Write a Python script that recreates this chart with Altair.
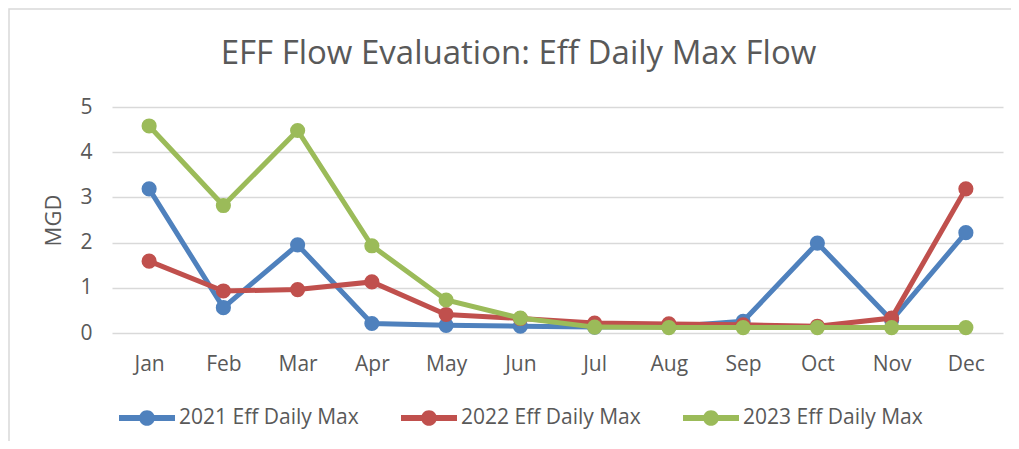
import altair as alt
import pandas as pd

months = ["Jan", "Feb", "Mar", "Apr", "May", "Jun", "Jul", "Aug", "Sep", "Oct", "Nov", "Dec"]
series_names = ["2021 Eff Daily Max", "2022 Eff Daily Max", "2023 Eff Daily Max"]
v2021 = [3.19, 0.56, 1.95, 0.21, 0.17, 0.15, 0.13, 0.14, 0.26, 1.99, 0.28, 2.22]
v2022 = [1.59, 0.93, 0.96, 1.13, 0.41, 0.32, 0.22, 0.20, 0.18, 0.15, 0.33, 3.19]
v2023 = [4.58, 2.82, 4.48, 1.93, 0.73, 0.33, 0.13, 0.12, 0.12, 0.12, 0.12, 0.12]
colors = ["#4F81BD", "#C0504D", "#9BBB59"]

rows = []
for name, vals in zip(series_names, [v2021, v2022, v2023]):
    for m, v in zip(months, vals):
        rows.append({"Month": m, "Series": name, "MGD": v})
df = pd.DataFrame(rows)

FONT = "Open Sans"
TXT = "#595959"

color_scale = alt.Scale(domain=series_names, range=colors)
x_enc = alt.X("Month:N", sort=months, scale=alt.Scale(type="point", padding=0.5),
              axis=alt.Axis(title=None, ticks=False, domain=False, labelPadding=20,
                            labelFontSize=21, labelColor=TXT, labelFont=FONT, labelAngle=0))
y_enc = alt.Y("MGD:Q", scale=alt.Scale(domain=[0, 5]),
              axis=alt.Axis(title="MGD", values=[0, 1, 2, 3, 4, 5], ticks=False, domain=False,
                            labelPadding=20, labelFontSize=21, labelColor=TXT, labelFont=FONT,
                            titleFontSize=22, titleFont=FONT, titleColor=TXT, titleFontWeight="normal",
                            titlePadding=14, gridColor="#D9D9D9", gridWidth=1.5))

legend_symbol = ("M-1,-0.11 L1,-0.11 L1,0.11 L-1,0.11 Z "
                 "M-0.28,0 A0.28,0.28 0 1,1 0.28,0 A0.28,0.28 0 1,1 -0.28,0 Z")

legend = alt.Legend(title=None, orient="none", direction="horizontal",
                    legendX=7, legendY=283, symbolType=legend_symbol,
                    symbolSize=3136, symbolStrokeWidth=0,
                    labelFontSize=21, labelFont=FONT, labelColor=TXT, labelLimit=400,
                    labelOffset=4, columnPadding=42, symbolOpacity=1)

frame = alt.Chart(pd.DataFrame({"a": [0]})).mark_rect(
    fill=None, stroke="#D9D9D9", strokeWidth=1.5
).encode(x=alt.value(-103), x2=alt.value(1000), y=alt.value(-98), y2=alt.value(400))

layers = [frame]
for i, name in enumerate(series_names):
    base = alt.Chart(df).transform_filter(alt.datum.Series == name)
    line = base.mark_line(strokeWidth=5).encode(
        x=x_enc, y=y_enc,
        color=alt.Color("Series:N", scale=color_scale, legend=legend),
    )
    pts = base.mark_point(filled=True, size=230, opacity=1).encode(
        x=x_enc, y=y_enc,
        color=alt.Color("Series:N", scale=color_scale, legend=legend),
    )
    layers += [line, pts]

chart = alt.layer(*layers).properties(
    width=891, height=226,
    autosize=alt.AutoSizeParams(type="none"),
    padding={"left": 104, "top": 99, "right": 8, "bottom": 108},
    title=alt.Title("EFF Flow Evaluation: Eff Daily Max Flow", fontSize=33, font=FONT,
                    color=TXT, fontWeight="normal", anchor="middle", dx=-39, offset=0, dy=63),
).configure_view(stroke=None)

chart.save("out.html", embed_options={"renderer": "svg", "actions": False})
